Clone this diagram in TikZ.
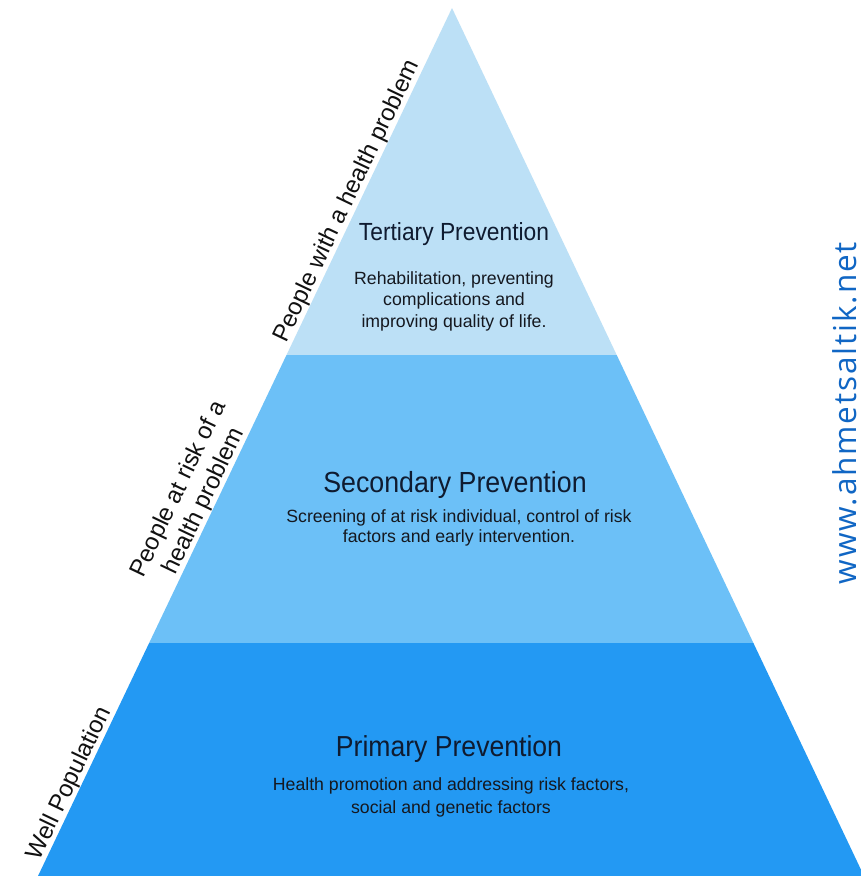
\documentclass[tikz,border=0pt]{standalone}
\usepackage{fontspec}
\setmainfont{Liberation Sans}
\newfontfamily\ttlfont[FakeStretch=0.92]{Liberation Sans}
\newfontfamily\wmfont[LetterSpace=6]{Open Sans}
\usetikzlibrary{calc}
\definecolor{tertc}{HTML}{BCE0F6}
\definecolor{secc}{HTML}{6CC0F7}
\definecolor{primc}{HTML}{2399F3}
\definecolor{titlec}{HTML}{0F1B30}
\definecolor{descc}{HTML}{15181F}
\definecolor{sidec}{HTML}{111111}
\definecolor{wmc}{HTML}{1066C4}
\begin{document}
\begin{tikzpicture}[x=1pt,y=-1pt,
  title/.style={text=titlec, inner sep=0pt, anchor=base, font=\ttlfont\fontsize{#1}{#1}\selectfont},
  desc/.style={text=descc, inner sep=0pt, anchor=base, font=\fontsize{17.7}{20}\selectfont},
  side/.style={text=sidec, inner sep=0pt, anchor=base, rotate=64.5, font=\fontsize{24}{28}\selectfont},
  band/.style={draw=none}
]
\fill[white] (0,0) rectangle (861,876);
\useasboundingbox (0,0) rectangle (861,876);
\clip (0,0) rectangle (861,876);

\coordinate (apex) at (452,8);
\coordinate (bl) at (38,876);
\coordinate (br) at (864,876);
\coordinate (l1) at ($(apex)!0.39977!(bl)$);
\coordinate (r1) at ($(apex)!0.39977!(br)$);
\coordinate (l2) at ($(apex)!0.73157!(bl)$);
\coordinate (r2) at ($(apex)!0.73157!(br)$);

\fill[tertc, band] (apex) -- (r1) -- (l1) -- cycle;
\fill[secc, band] (l1) -- (r1) -- (r2) -- (l2) -- cycle;
\fill[primc, band] (l2) -- (r2) -- (br) -- (bl) -- cycle;

% Tertiary
\node[title=24.8] (t3) at (454,240) {Tertiary Prevention};
\node[desc] (d3a) at (454,284) {Rehabilitation, preventing};
\node[desc] (d3b) at (454,305.5) {complications and};
\node[desc] (d3c) at (454,327) {improving quality of life.};

% Secondary
\node[title=29.1] (t2) at (455,492) {Secondary Prevention};
\node[desc] (d2a) at (459,522.7) {Screening of at risk individual, control of risk};
\node[desc] (d2b) at (459,542.3) {factors and early intervention.};

% Primary
\node[title=28.9] (t1) at (449,756.7) {Primary Prevention};
\node[desc] (d1a) at (451,790) {Health promotion and addressing risk factors,};
\node[desc] (d1b) at (451,813) {social and genetic factors};

% Side labels
\node[side] (s3) at (352.9,204.1) {People with a health problem};
\node[side] (s2a) at (184.7,491.8) {People at risk of a};
\node[side] (s2b) at (210.0,503.8) {health problem};
\node[side] (s1) at (75.3,786.2) {Well Population};

% Watermark
\node[text=wmc, inner sep=0pt, anchor=base, rotate=90, font=\wmfont\fontsize{31.5}{32}\selectfont] (wm) at (856,413) {www.ahmetsaltik.net};
\end{tikzpicture}
\end{document}
